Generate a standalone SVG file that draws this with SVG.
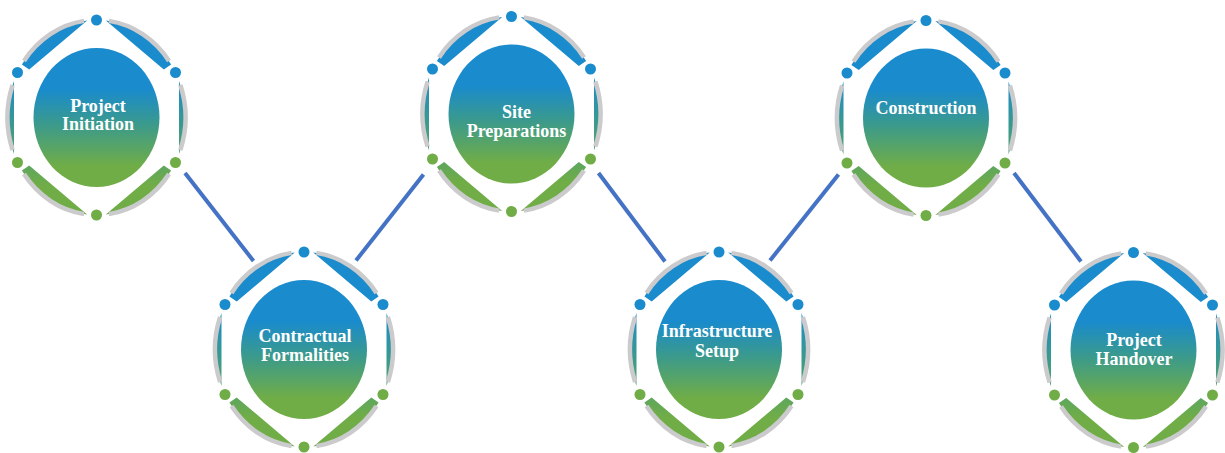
<svg xmlns="http://www.w3.org/2000/svg" xmlns:xlink="http://www.w3.org/1999/xlink" width="1225" height="453" viewBox="0 0 1225 453">
<style>
.ring{fill:none;stroke:#cbcbcd;stroke-width:4.5;stroke-linecap:butt}
.seg{fill:url(#grad)}
.inner{fill:url(#grad)}
.db{fill:#1a8bcc}
.dg{fill:#70ad47}
.lbl{font-family:"Liberation Serif","Times New Roman",serif;font-weight:bold;font-size:18px;fill:#ffffff;text-anchor:middle}
.conn{stroke:#4472c4;stroke-width:4;fill:none}
</style>
<defs>
<linearGradient id="grad" x1="0" y1="0" x2="0" y2="1">
<stop offset="0" stop-color="#1a8bcc"/>
<stop offset="0.3" stop-color="#1a8bcc"/>
<stop offset="0.55" stop-color="#3b9a8c"/>
<stop offset="0.85" stop-color="#70ad47"/>
<stop offset="1" stop-color="#70ad47"/>
</linearGradient>
<g id="node">
<path class="seg" d="M9.3 -97 A89 97.5 0 0 1 74.6 -53.1 L67.3 -47.9 Z M-9.3 -97 A89 97.5 0 0 0 -74.6 -53.1 L-67.3 -47.9 Z M9.3 97 A89 97.5 0 0 0 74.6 53.1 L67.3 47.9 Z M-9.3 97 A89 97.5 0 0 1 -74.6 53.1 L-67.3 47.9 Z M82.5 -36.5 A89 97.5 0 0 1 82.5 36.5 Z M-82.5 -36.5 A89 97.5 0 0 0 -82.5 36.5 Z"/>
<path class="ring" d="M12.4 -96.6 A89 97.5 0 0 1 72.5 -56.6 M83.9 -32.5 A89 97.5 0 0 1 83.9 32.5 M72.5 56.6 A89 97.5 0 0 1 12.4 96.6 M-12.4 96.6 A89 97.5 0 0 1 -72.5 56.6 M-83.9 32.5 A89 97.5 0 0 1 -83.9 -32.5 M-72.5 -56.6 A89 97.5 0 0 1 -12.4 -96.6"/>
<circle class="db" cx="0" cy="-97.5" r="5.5"/>
<circle class="db" cx="79" cy="-45" r="5.5"/>
<circle class="db" cx="-79" cy="-45" r="5.5"/>
<circle class="dg" cx="79" cy="45" r="5.5"/>
<circle class="dg" cx="-79" cy="45" r="5.5"/>
<circle class="dg" cx="0" cy="97.5" r="5.5"/>
<ellipse class="inner" cx="0" cy="0" rx="63" ry="69.5"/>
</g>
</defs>
<g id="connectors">
<line class="conn" x1="185" y1="173" x2="253.5" y2="261"/>
<line class="conn" x1="356" y1="260.5" x2="423.5" y2="174.5"/>
<line class="conn" x1="598.5" y1="173" x2="665" y2="261.5"/>
<line class="conn" x1="770" y1="260.5" x2="838.5" y2="174.5"/>
<line class="conn" x1="1014" y1="173" x2="1081" y2="261.5"/>
</g>
<g id="node-project-initiation">
<use href="#node" xlink:href="#node" transform="translate(96.5 117.5)"/>
<text class="lbl" x="98" y="111.7">Project</text>
<text class="lbl" x="98" y="130">Initiation</text>
</g>
<g id="node-contractual-formalities">
<use href="#node" xlink:href="#node" transform="translate(304 349.5)"/>
<text class="lbl" x="305" y="342.3">Contractual</text>
<text class="lbl" x="305" y="360.7">Formalities</text>
</g>
<g id="node-site-preparations">
<use href="#node" xlink:href="#node" transform="translate(511.5 114)"/>
<text class="lbl" x="516.5" y="118.3">Site</text>
<text class="lbl" x="516.5" y="136.7">Preparations</text>
</g>
<g id="node-infrastructure-setup">
<use href="#node" xlink:href="#node" transform="translate(719 349.5)"/>
<text class="lbl" x="717" y="336.7">Infrastructure</text>
<text class="lbl" x="717" y="356.7">Setup</text>
</g>
<g id="node-construction">
<use href="#node" xlink:href="#node" transform="translate(926 118)"/>
<text class="lbl" x="926" y="114.3">Construction</text>
</g>
<g id="node-project-handover">
<use href="#node" xlink:href="#node" transform="translate(1133.5 350)"/>
<text class="lbl" x="1134" y="345.7">Project</text>
<text class="lbl" x="1134" y="365">Handover</text>
</g>
</svg>
